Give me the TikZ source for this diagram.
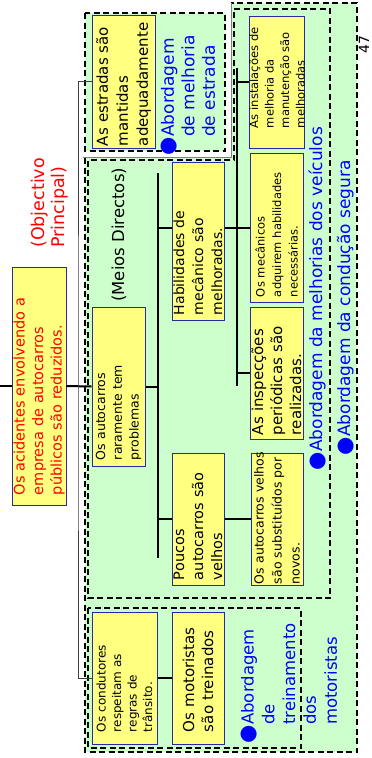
\documentclass[tikz,border=0pt]{standalone}
\usepackage{fontspec}
\setmainfont{DejaVu Sans}
\usetikzlibrary{positioning}
\definecolor{zonegreen}{RGB}{204,255,204}
\definecolor{cardyellow}{RGB}{255,255,128}
\definecolor{cardline}{RGB}{40,40,170}
\newcommand{\setfs}[2]{\fontsize{#1}{#2}\selectfont}
\newcommand{\dotmark}{\llap{\smash{\raisebox{-1pt}{\setfs{21}{21}●}}}}

\begin{document}
\begin{tikzpicture}[
  x=1pt, y=-1pt,
  card/.style={draw=cardline, fill=cardyellow, line width=1pt, rotate=90,
    inner sep=0pt, align=left},
  tag/.style={rotate=90, inner sep=0pt, text=blue, align=left},
  zone/.style={draw=black, line width=2pt, dash pattern=on 6pt off 3.5pt},
  link/.style={draw=black, line width=2pt},
  bus/.style={draw=black!75, line width=0.8pt}
]
  \useasboundingbox (0,0) rectangle (372,758);

  % Zones (safe driving, road, vehicles, drivers)
  \fill[zonegreen] (231,3) -- (357,3) -- (357,752) -- (85,752) -- (85,158)
    -- (231,158) -- cycle;
  \draw[zone, line width=2.5pt] (85,158) -- (85,752) -- (357,752) -- (357,3) -- (231,3);
  \draw[draw=gray, line width=0.8pt] (83,157) -- (231,157) -- (231,3);
  \draw[zone, fill=zonegreen] (85,13) rectangle (225,151);
  \draw[zone] (234,9) -- (330,9) -- (330,598) -- (88,598) -- (88,160)
    -- (234,160) -- cycle;
  \draw[zone] (88,608) rectangle (301,748);

  % Cards
  \node[card, minimum width=238pt, minimum height=54pt, text width=218pt,
    font=\setfs{14.5}{18.5}, text=red] (goal) at (39,386)
    {Os acidentes envolvendo a\\empresa de autocarros\\públicos são reduzidos.};
  \node[card, minimum width=133pt, minimum height=63pt, text width=129pt,
    font=\setfs{15}{20}] (road) at (123.5,81.5)
    {As estradas são\\mantidas\\adequadamente};
  \node[card, minimum width=159pt, minimum height=53pt, text width=147pt,
    font=\setfs{12.5}{16.7}] (rare) at (118.5,386.5)
    {Os autocarros\\raramente tem\\problemas};
  \node[card, minimum width=158pt, minimum height=52pt, text width=148pt,
    font=\setfs{14}{19}] (skill) at (198,241)
    {Habilidades de\\mecânico são\\melhoradas.};
  \node[card, minimum width=132pt, minimum height=52pt, text width=122pt,
    font=\setfs{14.5}{19}] (few) at (198,519)
    {Poucos\\autocarros são\\velhos};
  \node[card, minimum width=132pt, minimum height=54pt, text width=92pt,
    font=\setfs{11.5}{15.5}] (plant) at (277,82)
    {\mbox{As instalações de}\\\mbox{melhoria da}\\\mbox{manutenção são}\\\mbox{melhoradas}};
  \node[card, minimum width=149pt, minimum height=53pt, text width=139pt,
    font=\setfs{11.5}{16.5}] (mech) at (276.5,227.5)
    {Os mecânicos\\adquirem habilidades\\necessárias.};
  \node[card, minimum width=132pt, minimum height=53pt, text width=124pt,
    font=\setfs{15}{19}] (check) at (276.5,373)
    {As inspecções\\periódicas são\\realizadas.};
  \node[card, minimum width=132pt, minimum height=52pt, text width=130pt,
    font=\setfs{12.5}{18}] (renew) at (277,519)
    {\mbox{Os autocarros velhos}\\\mbox{são substituídos por}\\\mbox{novos.}};
  \node[card, minimum width=132pt, minimum height=65pt, text width=108pt,
    font=\setfs{12}{15.5}] (obey) at (124.5,678)
    {Os condutores\\respeitam as\\regras de\\trânsito.};
  \node[card, minimum width=132pt, minimum height=52pt, text width=108pt,
    font=\setfs{15}{19}] (train) at (198,678)
    {Os motoristas\\são treinados};

  % Labels
  \node[tag, anchor=west, text=red, font=\setfs{17.5}{20}] (goaltag) at (49.4,248)
    {(Objectivo\\Principal)};
  \node[tag, anchor=base west, text=black, font=\setfs{16.5}{20}] (meanstag) at (124,302)
    {(Meios Directos)};
  \node[tag, anchor=west, font=\setfs{17}{20.5}] (roadtag) at (188,137)
    {\dotmark Abordagem\\de melhoria\\de estrada};
  \node[tag, anchor=west, font=\setfs{16.5}{20.8}] (traintag) at (289,725)
    {\dotmark Abordagem\\de\\treinamento\\dos\\motoristas};
  \node[tag, anchor=base west, font=\setfs{17}{20}] (vehtag) at (322,452)
    {\dotmark Abordagem da melhorias dos veículos};
  \node[tag, anchor=base west, font=\setfs{17}{20}] (safetag) at (350,437)
    {\dotmark Abordagem da condução segura};
  \node[tag, anchor=base west, text=black, font=\setfs{14}{16}] (pageno) at (369,54) {47};

  % Connectors
  \coordinate (edge) at (0,386);
  \coordinate (outer) at (78,386);
  \coordinate (mtop) at (158,173);
  \coordinate (mbot) at (158,558);
  \coordinate (jskill) at (158,228);
  \coordinate (rtop) at (237,68);
  \coordinate (rbot) at (237,386);

  \draw[link] (edge) -- (goal.north);
  \draw[link] (goal.south) -- (rare.north);
  \draw[bus] (road.north) -| (outer) |- (obey.north);

  \draw[link] (mtop) -- (mbot);
  \draw[link] (rare.south) -- (rare.south -| mtop);
  \draw[link] (jskill) -- (jskill -| skill.north);
  \draw[link] (few.north) -- (few.north -| mtop);

  \draw[link] (rtop) -- (rbot);
  \draw[link] (plant.north) -- (plant.north -| rtop);
  \draw[link] (mech.north) -- (mech.north -| skill.south);
  \draw[link] (check.north) -- (check.north -| rtop);

  \draw[link] (few.south) -- (renew.north);
  \draw[link] (obey.south) -- (train.north);
\end{tikzpicture}
\end{document}
